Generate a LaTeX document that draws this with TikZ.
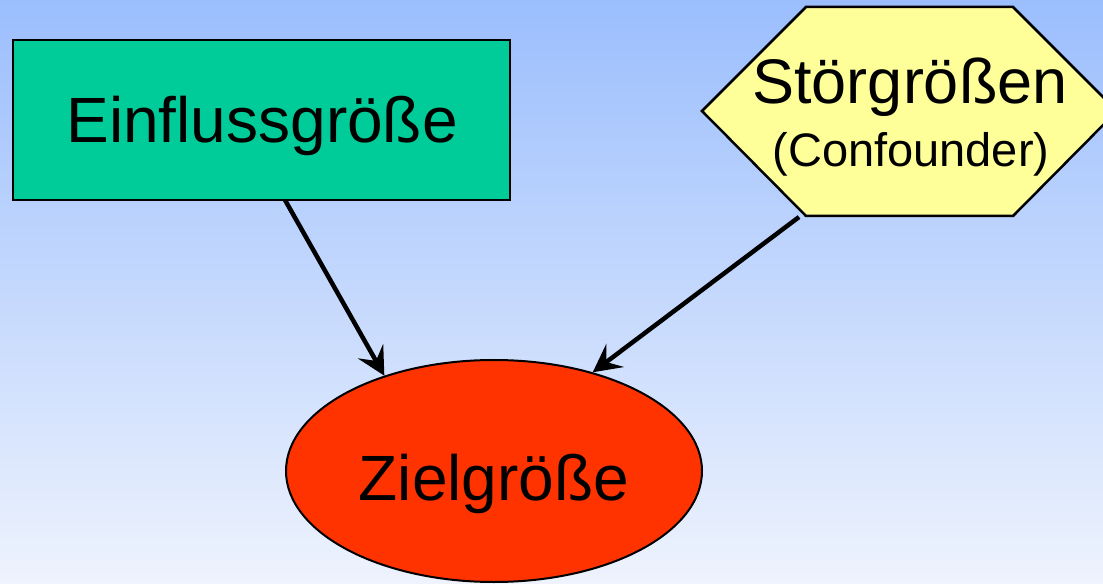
\documentclass[tikz,border=0pt]{standalone}
\usepackage{fontspec}
\setmainfont{Liberation Sans}
\usetikzlibrary{arrows.meta,shapes.geometric}
\definecolor{bgtop}{RGB}{155,190,253}
\definecolor{bgbot}{RGB}{238,243,253}
\definecolor{einfill}{RGB}{0,204,153}
\definecolor{hexfill}{RGB}{255,255,153}
\definecolor{zielfill}{RGB}{255,51,0}
\tikzset{
  box/.style={draw=black, line width=2.5bp, fill=einfill, minimum width=497bp, minimum height=160bp, inner sep=0pt},
  ell/.style={ellipse, draw=black, line width=2bp, fill=zielfill, minimum width=416bp, minimum height=222bp, inner sep=0pt},
  hexline/.style={draw=black, line width=2.5bp, fill=hexfill, line join=miter},
  arr/.style={line width=4.5bp, -{Stealth[length=28bp,width=29bp,inset=11bp]}},
  bigtext/.style={font=\fontsize{64bp}{70bp}\selectfont},
}
\begin{document}
\begin{tikzpicture}[x=1bp,y=-1bp]
\useasboundingbox (0,0) rectangle (1103,584);
\clip (0,0) rectangle (1103,584);
\shade[top color=bgtop, bottom color=bgbot] (0,0) rectangle (1103,584);
% Einflussgroesse
\node[box] (ein) at (261.5,120) {};
\node[bigtext, anchor=base] (eintext) at (262,143) {Einflussgröße};
% Stoergroessen hexagon
\coordinate (hl) at (702,111);
\coordinate (htl) at (806,7);
\coordinate (htr) at (1013,7);
\coordinate (hr) at (1117,111);
\coordinate (hbr) at (1013,216);
\coordinate (hbl) at (806,216);
\path[hexline] (hl) -- (htl) -- (htr) -- (hr) -- (hbr) -- (hbl) -- cycle;
\node[anchor=base, font=\fontsize{63bp}{66bp}\selectfont] (stoer) at (910,104) {Störgrößen};
\node[anchor=base, font=\fontsize{47bp}{50bp}\selectfont] (conf) at (911,167) {(Confounder)};
% Zielgroesse
\node[ell] (ziel) at (494,471) {};
\node[bigtext, anchor=base] (zieltext) at (494,500) {Zielgröße};
% connectors
\coordinate (einout) at (285,200);
\coordinate (stout) at (799,217);
\draw[arr] (einout) -- (ziel.139);
\draw[arr] (stout) -- (ziel.45);
\end{tikzpicture}
\end{document}
